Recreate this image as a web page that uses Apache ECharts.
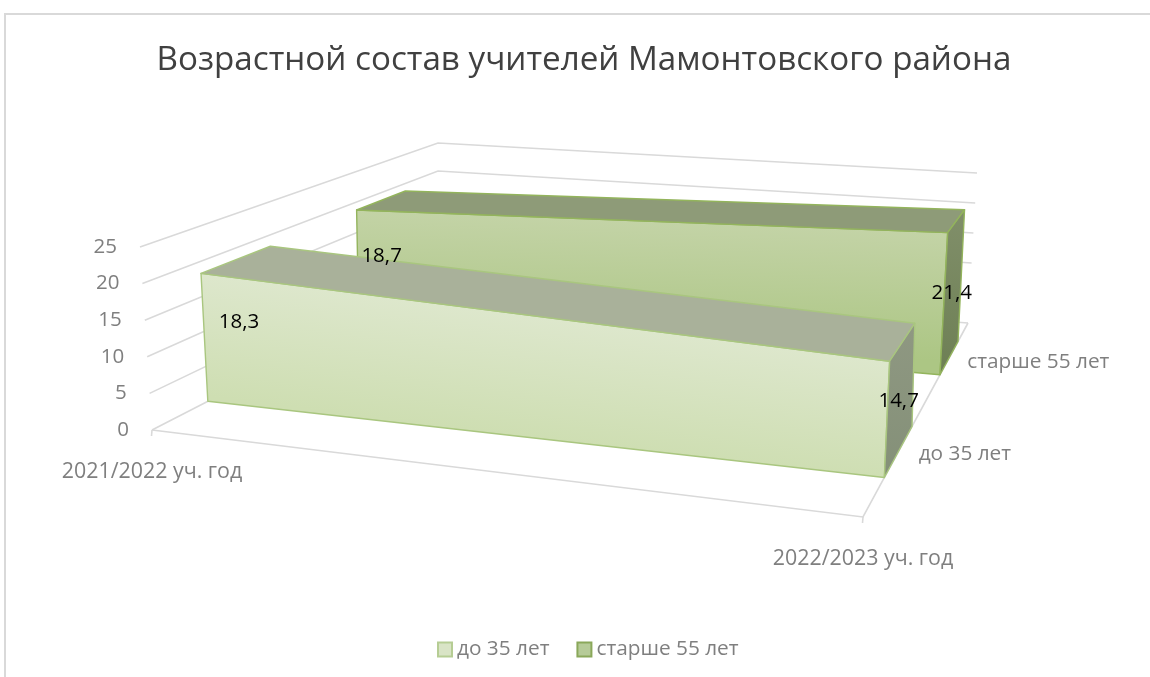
<!DOCTYPE html>
<html>
<head>
<meta charset="utf-8">
<style>html,body{margin:0;padding:0;background:#fff}#chart{width:1150px;height:677px}</style>
<script src="https://cdn.jsdelivr.net/npm/echarts@6/dist/echarts.min.js"></script>
</head>
<body>
<div id="chart"></div>
<script>
const titleText = 'Возрастной состав учителей Мамонтовского района';
const categories = ['2021/2022 уч. год', '2022/2023 уч. год'];
const seriesNames = ['до 35 лет', 'старше 55 лет'];
const under35 = [18.3, 14.7];
const over55 = [18.7, 21.4];
const yTicks = [0, 5, 10, 15, 20, 25];

// camera: where the corners of the 3D box land on the page
const FONT = '"Open Sans", "Noto Sans", sans-serif';
const floorCorners = [[152, 430], [863, 517], [968, 323], [438, 283]];
const ceilCorners = [[140, 247], [872, 307], [977, 173], [438, 143]];
const depthBands = [[0.15, 0.377], [0.655, 0.868]];
const topDepthShrink = [0.9, 0.93];
const labelOffsets = [[[38, 49], [9, 40]], [[25, 46], [4, 60]]];
const catLabelOffsets = [[0, 42], [0, 42]];
const depthLabelOffsets = [[66, 3], [89, 5]];

function homography(p) {
  const [[x0, y0], [x1, y1], [x2, y2], [x3, y3]] = p;
  const dx1 = x1 - x2, dx2 = x3 - x2, sx = x0 - x1 + x2 - x3;
  const dy1 = y1 - y2, dy2 = y3 - y2, sy = y0 - y1 + y2 - y3;
  const den = dx1 * dy2 - dx2 * dy1;
  const g = (sx * dy2 - dx2 * sy) / den, h = (dx1 * sy - sx * dy1) / den;
  const a = x1 - x0 + g * x1, b = x3 - x0 + h * x3;
  const d = y1 - y0 + g * y1, e = y3 - y0 + h * y3;
  return (u, v) => {
    const w = g * u + h * v + 1;
    return [(a * u + b * v + x0) / w, (d * u + e * v + y0) / w];
  };
}
const floorH = homography(floorCorners);
const ceilH = homography(ceilCorners);

// axis pixel -> normalised grid position -> projected page position
function projector(params, api) {
  const r = params.coordSys;
  return (cat, val, depth) => {
    const c = api.coord([cat, val]);
    const u = (c[0] - r.x) / r.width, t = (r.y + r.height - c[1]) / r.height;
    const a = floorH(u, depth), b = ceilH(u, depth);
    return [a[0] + (b[0] - a[0]) * t, a[1] + (b[1] - a[1]) * t];
  };
}

const GRID = '#d9d9d9';
const line = (pts) => ({
  type: 'polyline', shape: { points: pts },
  style: { stroke: GRID, lineWidth: 1.6, fill: null }, silent: true
});
const axisText = (text, p, off, size) => ({
  type: 'text',
  style: { text, x: p[0] + off[0], y: p[1] + off[1], fill: '#7f7f7f', font: size + 'px ' + FONT, align: 'center', verticalAlign: 'middle' }
});

function renderFrame(params, api) {
  const P = projector(params, api);
  const tick = api.value(0), ch = [];
  ch.push(line([P(0, tick, 0), P(0, tick, 1), P(1, tick, 1)]));
  if (tick === 0) {
    ch.push(line([P(0, 0, 0), P(1, 0, 0), P(1, 0, 1)]));
    [P(0, 0, 0), P(1, 0, 0)].forEach(p => ch.push(line([p, [p[0] - 0.5, p[1] + 6]])));
    categories.forEach((c, i) => ch.push(axisText(c, P(i, 0, 0), catLabelOffsets[i], 21.4)));
    seriesNames.forEach((s, i) => {
      const d = (depthBands[i][0] + depthBands[i][1]) / 2;
      ch.push(axisText(s, P(1, 0, d), depthLabelOffsets[i], 20.8));
    });
  }
  return { type: 'group', children: ch };
}

const skins = [
  { front: ['#dde7cc', '#cedeb2'], top: '#a9b19a', side: ['#8f9882', '#849078'], edge: '#a9c67f' },
  { front: ['#c3d3a6', '#acc684'], top: '#8e9b78', side: ['#818f6a', '#6d7f54'], edge: '#93b45c' }
];
const grad = (c) => new echarts.graphic.LinearGradient(0.1, 0, 0, 1, [{ offset: 0, color: c[0] }, { offset: 1, color: c[1] }]);
// gradient whose bands run parallel to the sloping top edge of the front face
function slopeGrad(c, tl, tr, bl, br) {
  const T = [(tl[0] + tr[0]) / 2, (tl[1] + tr[1]) / 2], B = [(bl[0] + br[0]) / 2, (bl[1] + br[1]) / 2];
  const ex = tr[0] - tl[0], ey = tr[1] - tl[1], len = Math.hypot(ex, ey);
  const nx = -ey / len, ny = ex / len, k = (B[0] - T[0]) * nx + (B[1] - T[1]) * ny;
  return new echarts.graphic.LinearGradient(T[0], T[1], T[0] + nx * k, T[1] + ny * k,
    [{ offset: 0, color: c[0] }, { offset: 1, color: c[1] }], true);
}

function renderArea(si, values) {
  return (params, api) => {
    const P = projector(params, api);
    const [d0, d1] = depthBands[si], s = skins[si], i = params.dataIndex;
    const dTop = d0 + (d1 - d0) * topDepthShrink[si];
    const face = (pts, fill) => ({
      type: 'polygon', shape: { points: pts },
      style: { fill, stroke: s.edge, lineWidth: 1.4, lineJoin: 'round' }
    });
    const ch = [];
    if (i === 0) {
      const bl = P(0, 0, d0), br = P(1, 0, d0), tr = P(1, values[1], d0), tl = P(0, values[0], d0);
      ch.push(face([bl, br, tr, tl], slopeGrad(s.front, tl, tr, bl, br)));
      ch.push(face([tl, tr, P(1, values[1], dTop), P(0, values[0], dTop)], s.top));
    } else {
      ch.push(face([P(1, 0, d0), P(1, 0, d1), P(1, values[1], dTop), P(1, values[1], d0)], grad(s.side)));
    }
    return { type: 'group', children: ch };
  };
}
function renderLabels(si, values) {
  return (params, api) => {
    const P = projector(params, api), i = params.dataIndex;
    const p = P(i, values[i], depthBands[si][0]), o = labelOffsets[si][i];
    return {
      type: 'text',
      style: { text: String(values[i]).replace('.', ','), x: p[0] + o[0], y: p[1] + o[1], fill: '#000', font: '20.5px ' + FONT, align: 'center', verticalAlign: 'middle' }
    };
  };
}
const pairs = (vals) => vals.map((v, i) => [i, v]);

const chart = echarts.init(document.getElementById('chart'), null, { renderer: 'canvas' });
chart.setOption({
  animation: false,
  backgroundColor: '#fff',
  title: {
    text: titleText, left: 579, textAlign: 'center', top: 39,
    textStyle: { color: '#404040', fontSize: 33.2, fontWeight: 'normal', fontFamily: FONT }
  },
  legend: {
    left: 437, top: 639, padding: 0, itemWidth: 14, itemHeight: 14, itemGap: 27, icon: 'rect',
    textStyle: { color: '#7f7f7f', fontSize: 20.8, fontFamily: FONT },
    data: [
      { name: seriesNames[0], itemStyle: { color: '#d9e4c6', borderColor: '#b6cd94', borderWidth: 2 } },
      { name: seriesNames[1], itemStyle: { color: '#b6cb98', borderColor: '#8aa85a', borderWidth: 2 } }
    ]
  },
  grid: { left: 132, right: 288, top: 247, height: 183 },
  xAxis: { type: 'category', boundaryGap: false, data: categories, show: false },
  yAxis: {
    type: 'value', min: 0, max: 25, interval: 5,
    axisLine: { show: false }, axisTick: { show: false }, splitLine: { show: false },
    axisLabel: {
      margin: 3, align: 'right',
      formatter: (v) => '{t' + v + '|' + v + '}',
      rich: Object.fromEntries(yTicks.map((t, i) => ['t' + t, { color: '#7f7f7f', fontSize: 20.5, fontFamily: FONT, padding: [0, i * 2.4, 0, 0] }]))
    }
  },
  graphic: [
    { type: 'polyline', shape: { points: [[5, 677], [5, 14], [1150, 14]] }, style: { stroke: '#d9d9d9', lineWidth: 2, fill: null }, silent: true }
  ],
  series: [
    { type: 'custom', name: 'сетка', clip: false, silent: true, z: 1, data: yTicks.map(t => [t]), encode: { y: 0 }, renderItem: renderFrame },
    { type: 'custom', name: seriesNames[1], clip: false, silent: true, z: 2, data: pairs(over55), itemStyle: { color: '#b6cb98' }, renderItem: renderArea(1, over55) },
    { type: 'custom', name: seriesNames[0], clip: false, silent: true, z: 3, data: pairs(under35), itemStyle: { color: '#d9e4c6' }, renderItem: renderArea(0, under35) },
    { type: 'custom', name: 'подписи1', clip: false, silent: true, z: 4, data: pairs(over55), renderItem: renderLabels(1, over55) },
    { type: 'custom', name: 'подписи0', clip: false, silent: true, z: 4, data: pairs(under35), renderItem: renderLabels(0, under35) }
  ]
});
</script>
</body>
</html>
